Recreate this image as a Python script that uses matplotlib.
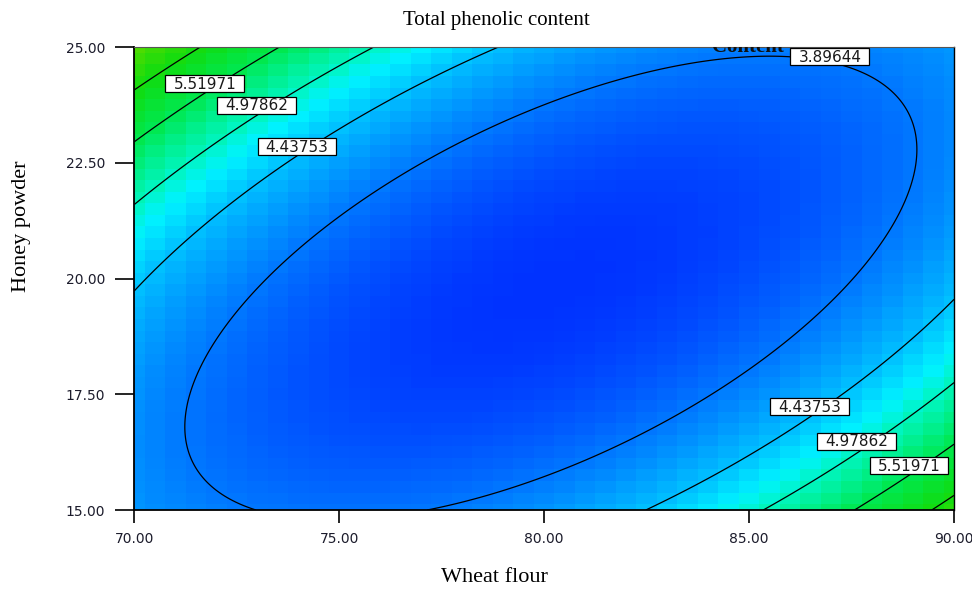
import numpy as np
import matplotlib
matplotlib.use("Agg")
import matplotlib.pyplot as plt
from matplotlib.colors import LinearSegmentedColormap, Normalize
from matplotlib.patches import Rectangle

# ---------------- data ----------------
title_text = "Total phenolic content"
x_label = "Wheat flour"
y_label = "Honey powder"
x_range = [70.0, 90.0]
y_range = [15.0, 25.0]
x_ticks = [70.0, 75.0, 80.0, 85.0, 90.0]
y_ticks = [15.0, 17.5, 20.0, 22.5, 25.0]
x_center, x_half = 80.0, 10.0
y_center, y_half = 20.0, 5.0
# coded quadratic response-surface model (A = wheat flour, B = honey powder)
b0 = 3.3525
bA = -0.082
bB = 0.089
bAB = -1.136
bAA = 1.066
bBB = 0.847
contour_levels = [3.89644, 4.43753, 4.97862, 5.51971, 6.0608]
label_texts = ["5.51971", "4.97862", "4.43753", "3.89644", "4.43753", "4.97862", "5.51971"]

# ---------------- layout / style ----------------
label_pos_x = [71.72, 72.99, 73.97, 86.97, 86.48, 87.63, 88.90]
label_pos_y = [24.20, 23.73, 22.84, 24.78, 17.22, 16.47, 15.95]
cmap_values = [3.35, 3.90, 4.44, 4.75, 4.98, 5.52, 6.06, 6.60]
cmap_colors = ["#0032ff", "#0078ff", "#00c0ff", "#00f2ff", "#00f5c0",
               "#00e850", "#10dc10", "#50dc00"]
n_cells = 41
W, H = 972, 592


def response(x, y):
    A = (x - x_center) / x_half
    B = (y - y_center) / y_half
    return b0 + bA * A + bB * B + bAB * A * B + bAA * A ** 2 + bBB * B ** 2


vmin, vmax = cmap_values[0], cmap_values[-1]
pos = [(v - vmin) / (vmax - vmin) for v in cmap_values]
cmap = LinearSegmentedColormap.from_list("de", list(zip(pos, cmap_colors)))
norm = Normalize(vmin=vmin, vmax=vmax, clip=True)

fig = plt.figure(figsize=(W / 100, H / 100), dpi=100)
ax = fig.add_axes([0.1382, 0.1385, 0.8433, 0.7821])

# blocky colour cells
xc = np.linspace(x_range[0], x_range[1], n_cells)
yc = np.linspace(y_range[0], y_range[1], n_cells)
XC, YC = np.meshgrid(xc, yc)
ax.pcolormesh(XC, YC, response(XC, YC), cmap=cmap, norm=norm, shading="nearest")

# smooth contour lines
xf = np.linspace(x_range[0], x_range[1], 300)
yf = np.linspace(y_range[0], y_range[1], 300)
XF, YF = np.meshgrid(xf, yf)
ax.contour(XF, YF, response(XF, YF), levels=contour_levels, colors="black", linewidths=0.9)

label_artists = []
for t, lx, ly in zip(label_texts, label_pos_x, label_pos_y):
    label_artists.append(ax.text(lx, ly, t, ha="center", va="center", fontsize=11,
                                 family="DejaVu Sans", color="#1a1a1a", zorder=6))

# clipped leftover label fragment visible in the original
ax.text(84.97, 24.99, "Content", ha="center", va="center", fontsize=15, family="Liberation Serif",
        fontweight="bold", color="#111111", clip_on=True, zorder=4)

ax.set_xlim(x_range)
ax.set_ylim(y_range)
ax.set_xticks(x_ticks)
ax.set_yticks(y_ticks)
ax.set_xticklabels([f"{v:.2f}" for v in x_ticks])
ax.set_yticklabels([f"{v:.2f}" for v in y_ticks])
for lab in ax.get_xticklabels() + ax.get_yticklabels():
    lab.set_family("DejaVu Sans")
    lab.set_fontsize(10)
    lab.set_color("#1c1c2c")
ax.tick_params(axis="y", direction="out", length=14, width=1.2, pad=7)
ax.tick_params(axis="x", direction="out", length=9.5, width=1.2, pad=6)

for side in ["left", "bottom"]:
    ax.spines[side].set_linewidth(1.3)
    ax.spines[side].set_color("black")
ax.spines["right"].set_linewidth(1.0)
ax.spines["right"].set_color("black")
ax.spines["top"].set_linewidth(0.8)
ax.spines["top"].set_color("#555555")

fig.text(0.511, 0.966, title_text, ha="center", va="center", fontsize=15, family="Liberation Serif")
fig.text(0.509, 0.024, x_label, ha="center", va="center", fontsize=16, family="Liberation Serif")
fig.text(0.022, 0.617, y_label, ha="center", va="center", rotation=90, fontsize=16,
         family="Liberation Serif")

# boxes around the contour labels (sized from the rendered text)
fig.canvas.draw()
renderer = fig.canvas.get_renderer()
for txt in label_artists:
    bb = txt.get_window_extent(renderer)
    cx, cy = (bb.x0 + bb.x1) / 2, (bb.y0 + bb.y1) / 2 + 0.5
    bw, bh = bb.width + 16, 17
    rect = Rectangle(((cx - bw / 2) / W, (cy - bh / 2) / H), bw / W, bh / H,
                     transform=fig.transFigure, facecolor="white", edgecolor="black",
                     linewidth=0.9, zorder=5)
    ax.add_patch(rect)

fig.savefig("out.png", dpi=100)
